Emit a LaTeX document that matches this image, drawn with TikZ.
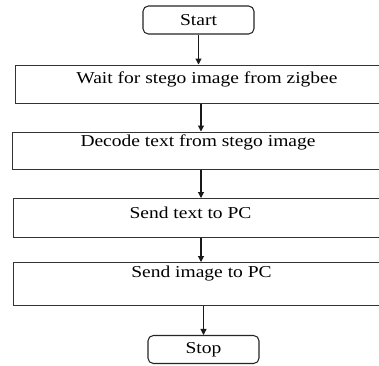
\documentclass[tikz,border=0pt]{standalone}
\usepackage{fontspec}
\setmainfont[FakeStretch=1.17]{Liberation Serif}
\usetikzlibrary{arrows.meta}
\begin{document}
\begin{tikzpicture}[x=0.75pt,y=-0.75pt,
  line width=0.8pt,
  terminal/.style={draw=black!85, rounded corners=4pt, minimum width=83.25pt, minimum height=21pt, inner sep=0pt, font=\fontsize{12.5}{14}\selectfont},
  stepbox/.style={draw=black!80, minimum height=#1, minimum width=288.75pt, inner sep=0pt, anchor=north west},
  steptext/.style={inner sep=0pt, font=\fontsize{12.5}{14}\selectfont},
  arr/.style={draw=black!90, -{Triangle[length=4.5pt,width=4.5pt]}}]
\useasboundingbox (0,0) rectangle (379,365);
\fill[white] (0,0) rectangle (379,365);
\clip (0,0) rectangle (379,365);

\coordinate (axis) at (201,0);

\node[terminal] (start) at (198.5,20) {Start};
\node[stepbox=28.5pt] (b1) at (15,64.5) {};
\node[steptext] (t1) at (207,79) {Wait for stego image from zigbee};
\node[stepbox=27.75pt] (b2) at (12,131.5) {};
\node[steptext] (t2) at (198,142.5) {Decode text from stego image};
\node[stepbox=29.25pt] (b3) at (13,198) {};
\node[steptext] (t3) at (190.5,212.5) {Send text to PC};
\node[stepbox=32.25pt] (b4) at (13,262) {};
\node[steptext] (t4) at (201.5,273.5) {Send image to PC};
\node[terminal] (stop) at (203.5,349.5) {Stop};

\draw[arr] (start.south) -- (start.south |- b1.north);
\draw[arr] (b1.south -| axis) -- (b2.north -| axis);
\draw[arr] (b2.south -| axis) -- (b3.north -| axis);
\draw[arr] (b3.south -| axis) -- (b4.north -| axis);
\draw[arr] (b4.south -| stop) -- (stop.north);
\end{tikzpicture}
\end{document}
